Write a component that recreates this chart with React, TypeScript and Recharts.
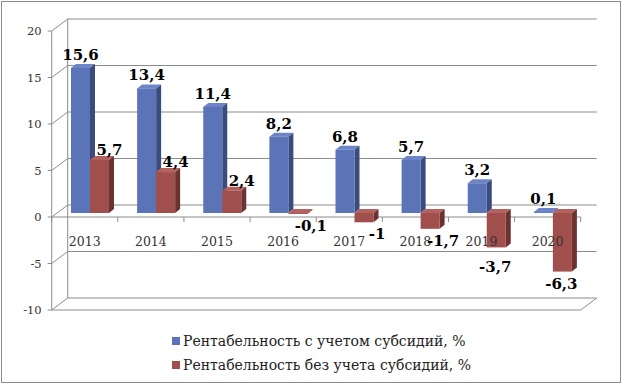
import React from "react";
import {
  BarChart,
  Bar,
  XAxis,
  YAxis,
  CartesianGrid,
  LabelList,
  Legend,
} from "recharts";

// Profitability of agriculture, 2013-2020
const years = ["2013", "2014", "2015", "2016", "2017", "2018", "2019", "2020"];
const withSubsidy = [15.6, 13.4, 11.4, 8.2, 6.8, 5.7, 3.2, 0.1];
const withoutSubsidy = [5.7, 4.4, 2.4, -0.1, -1, -1.7, -3.7, -6.3];
const yTicks = [-10, -5, 0, 5, 10, 15, 20];
const seriesNames = [
  "Рентабельность с учетом субсидий, %",
  "Рентабельность без учета субсидий, %",
];

const data = years.map((year, i) => ({
  year,
  withSubsidy: withSubsidy[i],
  withoutSubsidy: withoutSubsidy[i],
}));

const W = 622;
const H = 384;
const Y_AXIS_W = 57;
const X_AXIS_H = 78;
const margin = { top: 27, right: 36, bottom: 0, left: 0 };
const plotTop = margin.top;
const plotBottom = H - X_AXIS_H;
const plotLeft = Y_AXIS_W;
const plotRight = W - margin.right;
const yMin = -10;
const yMax = 20;
const zeroY = plotTop + ((plotBottom - plotTop) * yMax) / (yMax - yMin);

// fake 3D: back wall / front plane offsets relative to the bar plane
const BACK_X = 10.7;
const BACK_Y = 8;
const FRONT_X = 5.3;
const FRONT_Y = 4;
const DEPTH_X = 5;
const DEPTH_Y = 4;

const font = "'DejaVu Serif', Georgia, serif";
const lineColor = "#8c8c8c";

const blue = { front: "#5b74b8", side: "#3a4b7e", top: "#6d85c6" };
const red = { front: "#a14f4c", side: "#6c3230", top: "#b4625f" };

const fmt = (v: number) => String(v).replace(".", ",");

const gridLine = (props: any) => {
  const { x1, x2, y1, index } = props;
  const fx = x1 - FRONT_X;
  const bx = x1 + BACK_X;
  const isZero = Math.abs(y1 - zeroY) < 1;
  const isFloor = Math.abs(y1 - plotBottom) < 1;
  const isTop = Math.abs(y1 - plotTop) < 1;
  return (
    <g key={`grid-${index}`} stroke={lineColor} strokeWidth={1} fill="none">
      <line x1={bx} y1={y1 - BACK_Y} x2={x2 + BACK_X} y2={y1 - BACK_Y} />
      <line x1={fx} y1={y1 + FRONT_Y} x2={bx} y2={y1 - BACK_Y} />
      {isZero && (
        <line x1={fx} y1={y1 + FRONT_Y} x2={x2 - FRONT_X} y2={y1 + FRONT_Y} />
      )}
      {isFloor && (
        <>
          <line x1={fx} y1={y1 + FRONT_Y} x2={x2 - FRONT_X} y2={y1 + FRONT_Y} />
          <line
            x1={x2 - FRONT_X}
            y1={y1 + FRONT_Y}
            x2={x2 + BACK_X}
            y2={y1 - BACK_Y}
          />
        </>
      )}
      {isTop && (
        <>
          <line x1={fx} y1={y1 + FRONT_Y} x2={fx} y2={plotBottom + FRONT_Y} />
          <line x1={bx} y1={y1 - BACK_Y} x2={bx} y2={plotBottom - BACK_Y} />
        </>
      )}
    </g>
  );
};

const YTick = ({ y, payload }: any) => {
  const ax = plotLeft - FRONT_X;
  return (
    <g>
      <line
        x1={ax - 4}
        y1={y + FRONT_Y}
        x2={ax}
        y2={y + FRONT_Y}
        stroke={lineColor}
      />
      <text
        x={ax - 10}
        y={y + FRONT_Y + 4}
        textAnchor="end"
        fontFamily={font}
        fontSize={11.5}
        fill="#333"
      >
        {payload.value}
      </text>
    </g>
  );
};

const XTick = ({ x, payload, index }: any) => {
  const band = (plotRight - plotLeft) / years.length;
  const fx = x - FRONT_X;
  const ty = zeroY + FRONT_Y;
  return (
    <g>
      {index === 0 && (
        <line x1={fx - band / 2} y1={ty} x2={fx - band / 2} y2={ty + 5} stroke={lineColor} />
      )}
      <line x1={fx + band / 2} y1={ty} x2={fx + band / 2} y2={ty + 5} stroke={lineColor} />
      <text
        x={fx}
        y={ty + 29}
        textAnchor="middle"
        fontFamily={font}
        fontSize={12.5}
        fill="#333"
      >
        {payload.value}
      </text>
    </g>
  );
};

const makeBar3D = (c: { front: string; side: string; top: string }) => (props: any) => {
  const { x, y, width, height } = props;
  if (x == null || y == null) return null;
  const top = Math.min(y, y + height);
  const h = Math.abs(height);
  const r = x + width;
  return (
    <g>
      <path
        d={`M${x},${top} L${x + DEPTH_X},${top - DEPTH_Y} L${r + DEPTH_X},${top - DEPTH_Y} L${r},${top} Z`}
        fill={c.top}
      />
      <path
        d={`M${r},${top} L${r + DEPTH_X},${top - DEPTH_Y} L${r + DEPTH_X},${top + h - DEPTH_Y} L${r},${top + h} Z`}
        fill={c.side}
      />
      <rect x={x} y={top} width={width} height={h} fill={c.front} />
    </g>
  );
};

const labelStyle = {
  fontFamily: font,
  fontSize: 15,
  fontWeight: 700,
  fill: "#000",
};

const BlueLabel = (props: any) => {
  const { x, y, width, height, value } = props;
  const top = Math.min(y, y + height);
  return (
    <text x={x + width / 2} y={top - 8} textAnchor="middle" {...labelStyle}>
      {fmt(value)}
    </text>
  );
};

const RedLabel = (props: any) => {
  const { x, y, width, height, value } = props;
  const top = Math.min(y, y + height);
  const bottom = top + Math.abs(height);
  let lx = x + width / 2;
  let ly = top - 5;
  if (value < 0) {
    lx = value > -3 ? lx + 13 : lx - 1;
    ly = value > -3 || value < -5 ? bottom + 17 : bottom + 25;
  } else {
    lx = lx + 10;
  }
  return (
    <text x={lx} y={ly} textAnchor="middle" {...labelStyle}>
      {fmt(value)}
    </text>
  );
};

const renderLegend = (props: any) => {
  const items = [...(props.payload || [])].sort(
    (a: any, b: any) => seriesNames.indexOf(a.value) - seriesNames.indexOf(b.value)
  );
  return (
    <div style={{ fontFamily: font, fontSize: 14, color: "#222" }}>
      {items.map((entry: any) => (
        <div
          key={entry.value}
          style={{ display: "flex", alignItems: "center", height: 24, whiteSpace: "nowrap" }}
        >
          <span
            style={{
              display: "inline-block",
              width: 8,
              height: 8,
              background: entry.color,
              marginRight: 3,
            }}
          />
          <span>{entry.value}</span>
        </div>
      ))}
    </div>
  );
};

const App: React.FC = () => {
  return (
    <div
      style={{
        position: "absolute",
        left: 0,
        top: 0,
        width: W,
        height: H,
        background: "#fff",
      }}
    >
      <div
        style={{
          position: "absolute",
          left: 1,
          top: 1,
          width: W - 4,
          height: H - 4,
          border: "1px solid #8c8c8c",
        }}
      />
      <BarChart
        width={W}
        height={H}
        data={data}
        margin={margin}
        barGap={0}
        barSize={19}
      >
        <CartesianGrid vertical={false} horizontal={gridLine} />
        <XAxis
          dataKey="year"
          height={X_AXIS_H}
          axisLine={false}
          tickLine={false}
          tick={<XTick />}
          interval={0}
        />
        <YAxis
          width={Y_AXIS_W}
          domain={[yMin, yMax]}
          ticks={yTicks}
          axisLine={false}
          tickLine={false}
          tick={<YTick />}
          interval={0}
        />
        <Legend
          layout="vertical"
          align="center"
          verticalAlign="middle"
          content={renderLegend}
          wrapperStyle={{ left: 172, top: 329, width: "auto" }}
        />
        <Bar
          dataKey="withSubsidy"
          name={seriesNames[0]}
          fill={blue.front}
          shape={makeBar3D(blue)}
          isAnimationActive={false}
        >
          <LabelList dataKey="withSubsidy" content={<BlueLabel />} />
        </Bar>
        <Bar
          dataKey="withoutSubsidy"
          name={seriesNames[1]}
          fill={red.front}
          shape={makeBar3D(red)}
          isAnimationActive={false}
        >
          <LabelList dataKey="withoutSubsidy" content={<RedLabel />} />
        </Bar>
      </BarChart>
    </div>
  );
};

export default App;
